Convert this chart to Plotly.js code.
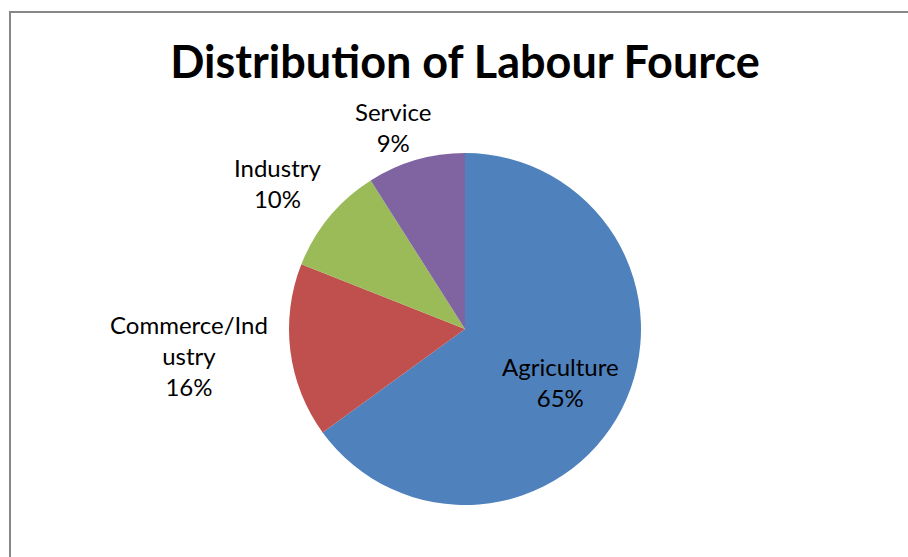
<!DOCTYPE html>
<html>
<head>
<meta charset="utf-8">
<script src="https://cdn.plot.ly/plotly-3.0.1.min.js"></script>
<style>
  html, body { margin: 0; padding: 0; background: #fff; }
  #wrap { position: relative; width: 908px; height: 557px; overflow: hidden; }
  #chart { position: absolute; left: 0; top: 0; width: 908px; height: 557px; }
  #frame { position: absolute; left: 9px; top: 11px; width: 1000px; height: 700px;
           border: 2px solid #878787; pointer-events: none; }
</style>
</head>
<body>
<div id="wrap">
  <div id="chart"></div>
  <div id="frame"></div>
</div>
<script>
const chartTitle = "Distribution of Labour Fource";
const categories = ["Agriculture", "Commerce/Industry", "Industry", "Service"];
const displayLabels = ["Agriculture", "Commerce/Ind<br>ustry", "Industry", "Service"];
const shares = [65, 16, 10, 9];
const sliceColors = ["#4F81BD", "#C0504D", "#9BBB59", "#8064A2"];

const W = 908, H = 557;
// label block centres in pixels (layout only)
const labelPos = [[560, 382], [189, 355], [277, 183], [393, 127]];

const total = shares.reduce((a, b) => a + b, 0);
const annotations = categories.map((c, i) => ({
  xref: "paper", yref: "paper",
  x: labelPos[i][0] / W, y: 1 - labelPos[i][1] / H,
  xanchor: "center", yanchor: "middle",
  text: displayLabels[i] + "<br>" + Math.round(shares[i] / total * 100) + "%",
  showarrow: false,
  font: { family: "Lato, 'Open Sans', sans-serif", size: 24, color: "#000" }
}));

const cx = 465, cy = 329, R = 176;
const trace = {
  type: "pie",
  labels: categories,
  values: shares,
  sort: false,
  direction: "clockwise",
  rotation: 0,
  textinfo: "none",
  hoverinfo: "label+percent",
  marker: { colors: sliceColors, line: { color: "#ffffff", width: 0 } },
  domain: { x: [(cx - R) / W, (cx + R) / W], y: [1 - (cy + R) / H, 1 - (cy - R) / H] }
};

const layout = {
  width: W, height: H,
  margin: { l: 0, r: 0, t: 0, b: 0 },
  paper_bgcolor: "#ffffff",
  showlegend: false,
  title: {
    text: "<b>" + chartTitle + "</b>",
    x: 465 / W, xanchor: "center",
    y: 1 - 62 / H, yanchor: "middle",
    font: { family: "Lato, 'Open Sans', sans-serif", size: 45, color: "#000" }
  },
  annotations: annotations
};

Plotly.newPlot("chart", [trace], layout, { displayModeBar: false, staticPlot: true });
</script>
</body>
</html>
